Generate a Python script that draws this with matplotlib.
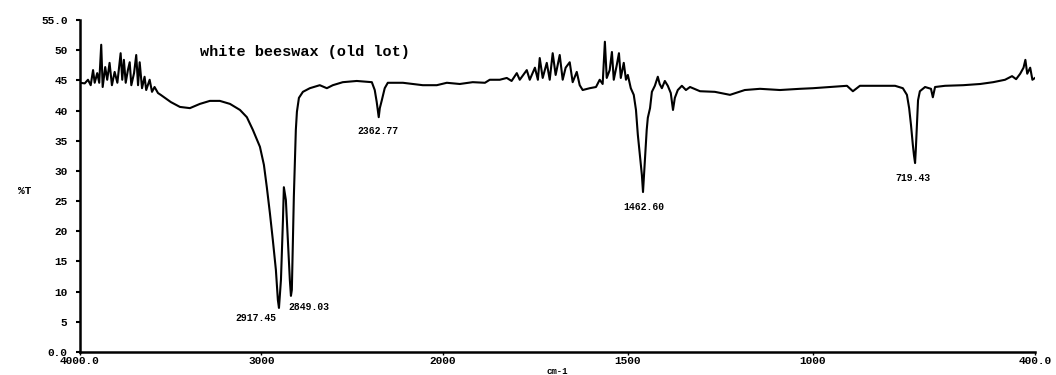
import numpy as np
import matplotlib
matplotlib.use("Agg")
import matplotlib.pyplot as plt

# ---------------- data ----------------
wavenumber = [
    4000, 3974, 3956, 3941, 3928, 3919, 3905, 3894, 3883, 3875, 3861, 3850, 3837, 3824,
    3809, 3794, 3776, 3767, 3758, 3748, 3736, 3726, 3717, 3702, 3690, 3680, 3671, 3658,
    3644, 3635, 3616, 3603, 3589, 3570, 3555, 3499, 3449, 3394, 3339, 3284, 3229, 3173,
    3118, 3080, 3047, 3008, 2986, 2970, 2953, 2937, 2920, 2909, 2903, 2892, 2881, 2876,
    2865, 2854, 2843, 2837, 2832, 2826, 2821, 2815, 2810, 2804, 2793, 2771, 2733, 2678,
    2639, 2606, 2551, 2474, 2391, 2375, 2364, 2353, 2347, 2336, 2320, 2303, 2220, 2110,
    2033, 1989, 1954, 1919, 1886, 1873, 1846, 1827, 1814, 1800, 1792, 1773, 1765, 1751,
    1743, 1738, 1730, 1719, 1711, 1703, 1695, 1684, 1676, 1668, 1657, 1649, 1638, 1630,
    1622, 1603, 1586, 1576, 1568, 1562, 1557, 1549, 1543, 1538, 1530, 1524, 1519, 1511,
    1505, 1500, 1492, 1484, 1478, 1473, 1467, 1462, 1459, 1457, 1454, 1449, 1446, 1440,
    1435, 1427, 1419, 1414, 1408, 1400, 1392, 1384, 1378, 1373, 1365, 1354, 1343, 1332,
    1305, 1265, 1224, 1184, 1143, 1089, 1035, 1000, 954, 908, 892, 873, 819, 778,
    757, 746, 740, 735, 730, 727, 724, 722, 719, 716, 711, 697, 681, 676,
    670, 643, 594, 548, 513, 481, 462, 451, 440, 431, 426, 421, 413, 407, 400,
]
transmittance = [
    44.6, 44.5, 45.1, 44.2, 46.7, 44.6, 46.2, 44.6, 50.9, 43.9, 47.2, 45.1, 47.9, 44.2,
    46.4, 44.6, 49.5, 45.1, 48.4, 44.6, 46.7, 48.0, 44.2, 46.2, 49.2, 44.2, 48.0, 43.7,
    45.6, 43.4, 45.1, 43.1, 43.9, 42.9, 42.6, 41.4, 40.6, 40.4, 41.1, 41.6, 41.6, 41.1,
    40.1, 38.9, 36.8, 34.0, 31.0, 27.3, 23.0, 18.6, 13.6, 8.6, 7.3, 12.0, 21.9, 27.3,
    25.2, 18.6, 11.9, 9.3, 10.3, 18.6, 25.7, 31.8, 36.8, 39.8, 42.1, 43.1, 43.7, 44.2,
    43.7, 44.2, 44.7, 44.9, 44.7, 43.4, 41.4, 38.9, 40.4, 41.7, 43.7, 44.6, 44.6, 44.2,
    44.2, 44.6, 44.4, 44.7, 44.6, 45.1, 45.1, 45.4, 44.9, 46.2, 45.1, 46.7, 45.1, 47.1,
    45.1, 48.7, 45.4, 47.9, 45.1, 49.5, 45.9, 49.2, 45.1, 47.1, 48.0, 44.7, 46.4, 44.2,
    43.4, 43.7, 43.9, 45.1, 44.4, 51.4, 45.4, 46.7, 49.7, 45.1, 47.5, 49.5, 45.4, 47.9,
    45.1, 45.9, 43.7, 42.6, 40.1, 36.0, 32.3, 29.3, 26.5, 28.5, 31.8, 36.8, 38.8, 40.4,
    43.1, 44.1, 45.6, 44.4, 43.7, 44.9, 44.1, 42.9, 40.1, 42.1, 43.4, 44.1, 43.4, 43.9,
    43.2, 43.1, 42.6, 43.4, 43.6, 43.4, 43.6, 43.7, 43.9, 44.1, 43.2, 44.1, 44.1, 44.1,
    43.7, 42.6, 40.4, 37.6, 34.3, 32.6, 31.3, 33.5, 37.6, 41.7, 43.2, 43.9, 43.6, 42.2,
    43.9, 44.1, 44.2, 44.4, 44.7, 45.1, 45.7, 45.2, 46.1, 47.1, 48.4, 46.1, 47.1, 45.1, 45.4,
]

peak_labels = ["2917.45", "2849.03", "2362.77", "1462.60", "719.43"]
label_x = [3030, 2738, 2358, 1457, 730]
label_y = [5.6, 7.4, 36.6, 24.0, 28.9]

x_ticks = [4000, 3000, 2000, 1500, 1000, 400]
x_tick_labels = ["4000.0", "3000", "2000", "1500", "1000", "400.0"]
y_ticks = [0, 5, 10, 15, 20, 25, 30, 35, 40, 45, 50, 55]
y_tick_labels = ["0.0", "5", "10", "15", "20", "25", "30", "35", "40", "45", "50", "55.0"]

title = "white beeswax (old lot)"

# ---------------- axis scale: compressed above 2000 cm-1 ----------------
K = 0.49


def fwd(w):
    w = np.asarray(w, dtype=float)
    return np.where(w <= 2000, w, 2000 + (w - 2000) * K)


def inv(u):
    u = np.asarray(u, dtype=float)
    return np.where(u <= 2000, u, 2000 + (u - 2000) / K)


fig = plt.figure(figsize=(10.56, 3.75), dpi=100)
ax = fig.add_axes([80 / 1056, 23 / 375, 955 / 1056, 332 / 375])
ax.set_xscale("function", functions=(fwd, inv))
ax.set_xlim(4000, 400)
ax.set_ylim(0, 55)

mono = ["Liberation Mono", "DejaVu Sans Mono"]

ax.plot(wavenumber, transmittance, color="black", lw=1.5, zorder=3)

for lab, lx, ly in zip(peak_labels, label_x, label_y):
    ax.text(lx, ly, lab, ha="center", va="center", fontsize=7,
            fontweight="bold", family=mono, zorder=4)

ax.text(0.126, 0.905, title, transform=ax.transAxes, ha="left",
        va="center", fontsize=11, fontweight="bold", family=mono)

ax.set_xticks(x_ticks)
ax.set_xticklabels(x_tick_labels)
ax.set_yticks(y_ticks)
ax.set_yticklabels(y_tick_labels)
ax.xaxis.set_minor_locator(matplotlib.ticker.NullLocator())
for lbl in ax.get_xticklabels() + ax.get_yticklabels():
    lbl.set_fontweight("bold")
    lbl.set_family(mono)
    lbl.set_fontsize(8)
ax.tick_params(axis="y", direction="out", length=3, width=1.5, pad=6)
ax.tick_params(axis="x", direction="out", length=2, width=1, pad=1)

for s in ["top", "right"]:
    ax.spines[s].set_visible(False)
for s in ["left", "bottom"]:
    ax.spines[s].set_linewidth(1.8)

ax.set_ylabel("%T", rotation=0, fontsize=8, fontweight="bold", family=mono)
ax.yaxis.set_label_coords(-0.058, 0.47)
ax.set_xlabel("cm-1", fontsize=6.5, fontweight="bold", family=mono)
ax.xaxis.set_label_coords(0.50, -0.045)
ax.patch.set_alpha(0)

fig.savefig("out.png", dpi=100)
